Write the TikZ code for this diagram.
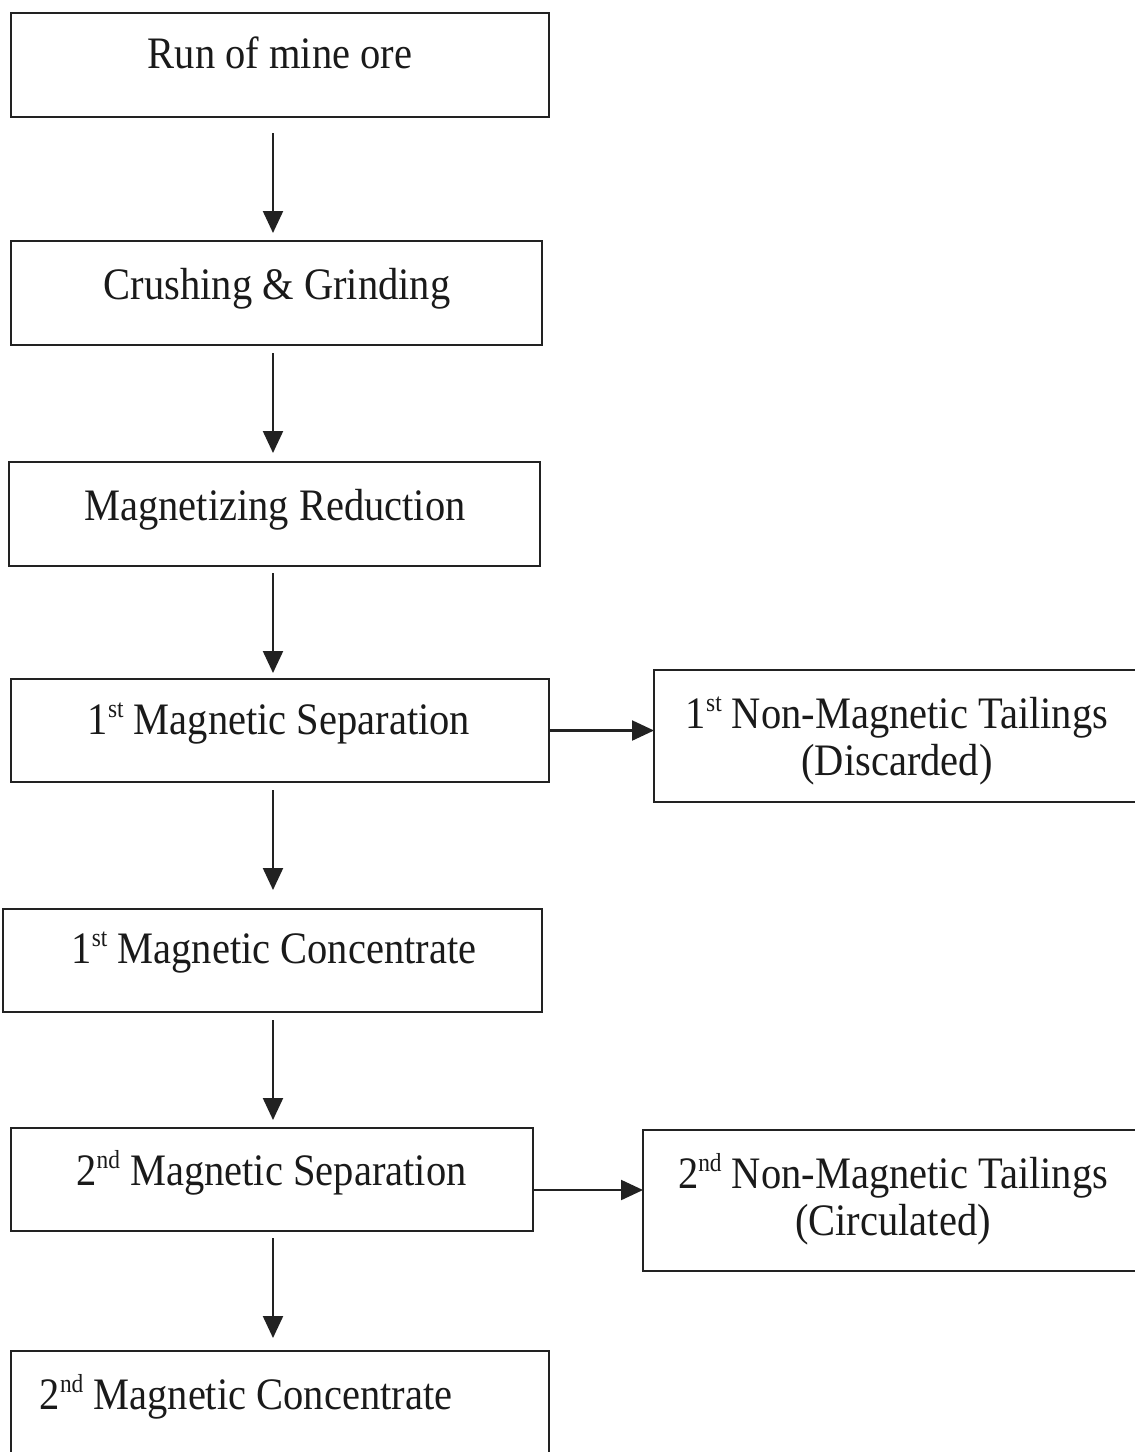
\documentclass[tikz,border=0pt]{standalone}
\usepackage{fontspec}
\setmainfont{Liberation Serif}[FakeStretch=0.9]
\usetikzlibrary{arrows.meta}
\definecolor{ink}{HTML}{1A1A1A}
\definecolor{edge}{HTML}{222222}
\newcommand{\supx}[1]{\raisebox{0.36em}{\fontsize{26}{26}\selectfont #1}}
\begin{document}
\begin{tikzpicture}[x=1pt,y=-1pt,
  box/.style={draw=edge, line width=2.2pt, inner sep=0pt, outer sep=0pt},
  lbl/.style={anchor=base, inner sep=0pt, text=ink, font=\fontsize{45}{54}\selectfont},
  arr/.style={draw=edge, line width=2.2pt, -{Triangle[length=22pt,width=20pt]}}]
\clip (0,0) rectangle (1135,1452);
\fill[white] (0,0) rectangle (1135,1452);
% boxes
\node[box, minimum width=538pt, minimum height=104pt] (b1) at (280,65) {};
\node[box, minimum width=531pt, minimum height=104pt] (b2) at (276.5,293) {};
\node[box, minimum width=531pt, minimum height=104pt] (b3) at (274.5,514) {};
\node[box, minimum width=538pt, minimum height=103pt] (b4) at (280,730.5) {};
\node[box, minimum width=486pt, minimum height=132pt] (r1) at (897,736) {};
\node[box, minimum width=539pt, minimum height=103pt] (b6) at (272.5,960.5) {};
\node[box, minimum width=522pt, minimum height=103pt] (b7) at (272,1179.5) {};
\node[box, minimum width=500pt, minimum height=141pt] (r2) at (893,1200.5) {};
\node[box, minimum width=538pt, minimum height=109pt] (b9) at (280,1405.5) {};
% texts
\node[lbl] (t1) at (280,68) {Run of mine ore};
\node[lbl] (t2) at (277,299) {Crushing \& Grinding};
\node[lbl] (t3) at (275,520) {Magnetizing Reduction};
\node[lbl] (t4) at (279,734) {1\supx{st} Magnetic Separation};
\node[lbl] (r1a) at (897,728) {1\supx{st} Non-Magnetic Tailings};
\node[lbl] (r1b) at (897,775) {(Discarded)};
\node[lbl] (t6) at (274,963) {1\supx{st} Magnetic Concentrate};
\node[lbl] (t7) at (271.5,1185) {2\supx{nd} Magnetic Separation};
\node[lbl] (r2a) at (893,1188) {2\supx{nd} Non-Magnetic Tailings};
\node[lbl] (r2b) at (893,1235) {(Circulated)};
\node[lbl] (t9) at (246,1409) {2\supx{nd} Magnetic Concentrate};
% arrows
\coordinate (ax) at (273,0);
\draw[arr, shorten <=16pt, shorten >=8pt] (b1.south -| ax) -- (b2.north -| ax);
\draw[arr, shorten <=8pt, shorten >=9pt] (b2.south -| ax) -- (b3.north -| ax);
\draw[arr, shorten <=7pt, shorten >=6pt] (b3.south -| ax) -- (b4.north -| ax);
\draw[arr, shorten <=8pt, shorten >=19pt] (b4.south -| ax) -- (b6.north -| ax);
\draw[arr, shorten <=8pt, shorten >=8pt] (b6.south -| ax) -- (b7.north -| ax);
\draw[arr, shorten <=7pt, shorten >=13pt] (b7.south -| ax) -- (b9.north -| ax);
\draw[arr] (b4.east) -- (b4.east -| r1.west);
\path ([yshift=-10.5pt]b7.east) coordinate (h2);
\draw[arr] (h2) -- (h2 -| r2.west);
\end{tikzpicture}
\end{document}
